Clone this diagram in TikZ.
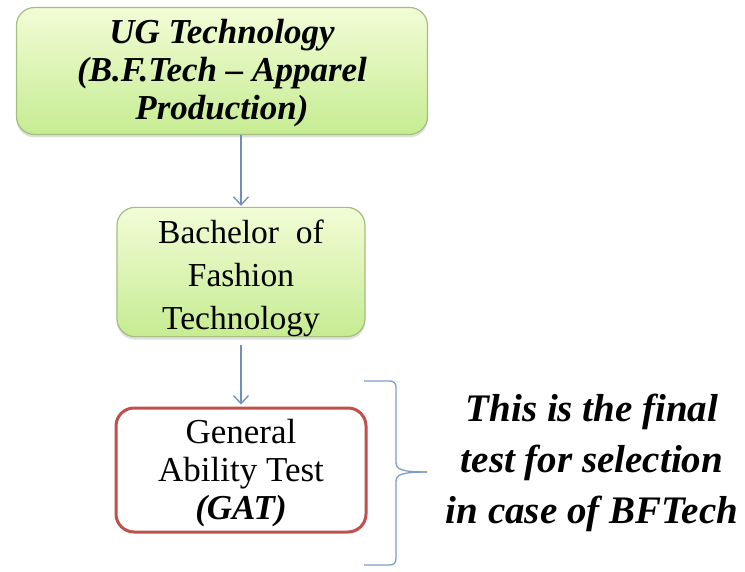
\documentclass[tikz,border=0pt]{standalone}
\usepackage{fontspec}
\setmainfont{Liberation Serif}
\usetikzlibrary{arrows.meta,shadows}
\definecolor{boxtop}{HTML}{F2FCD6}
\definecolor{boxbottom}{HTML}{C6EC92}
\definecolor{boxline}{HTML}{A3BE80}
\definecolor{gatred}{HTML}{C0504D}
\definecolor{linkblue}{HTML}{6F8FB8}
\definecolor{bracecol}{HTML}{7C9DC8}

\begin{document}
\begin{tikzpicture}[x=1pt,y=-1pt,
  greenbox/.style={draw=boxline, line width=1.2pt, rounded corners=18pt,
    top color=boxtop, bottom color=boxbottom, align=center, inner sep=0pt,
    drop shadow={opacity=0.25, shadow xshift=0pt, shadow yshift=-3pt}},
  redbox/.style={draw=gatred, line width=3pt, rounded corners=18pt,
    fill=white, align=center, inner sep=0pt},
  flowarrow/.style={draw=linkblue, line width=1.3pt,
    -{Straight Barb[length=8pt,width=15pt,line width=1.3pt]}}]

\useasboundingbox (0,0) rectangle (745,572);

\node[greenbox, minimum width=411pt, minimum height=127pt, text depth=4pt,
  font=\fontsize{35}{38}\selectfont\bfseries\itshape] (ug) at (222,71)
  {UG Technology\\(B.F.Tech -- Apparel\\Production)};

\node[greenbox, minimum width=248pt, minimum height=125pt,
  font=\fontsize{33.5}{43}\selectfont] (bft) at (241,272)
  {\rule{0pt}{36pt}Bachelor\ \ of\\Fashion\\Technology};

\node[redbox, minimum width=250pt, minimum height=124pt,
  font=\fontsize{35}{38}\selectfont] (gat) at (241,470)
  {\rule{0pt}{30pt}General\\Ability\ Test\\\textbf{\textit{(GAT)}}};

\draw[flowarrow] (bft.north |- ug.south) -- ([yshift=1pt]bft.north);
\draw[flowarrow] ([yshift=-8pt]bft.south) -- ([yshift=2pt]gat.north);

% brace
\draw[bracecol, line width=1.3pt] (364,381) -- (389,381) .. controls (394,381) and (396,383) .. (396,388)
  -- (396,462) .. controls (396,469) and (400,472) .. (427,472);
\draw[bracecol, line width=1.3pt] (427,472) .. controls (400,472) and (396,475) .. (396,482)
  -- (396,558) .. controls (396,563) and (394,565) .. (389,565) -- (364,565);

\node[align=center, font=\fontsize{39}{51}\selectfont\bfseries\itshape] (note) at (592,463)
  {This is the final\\test for selection\\in case of BFTech};

\end{tikzpicture}
\end{document}
